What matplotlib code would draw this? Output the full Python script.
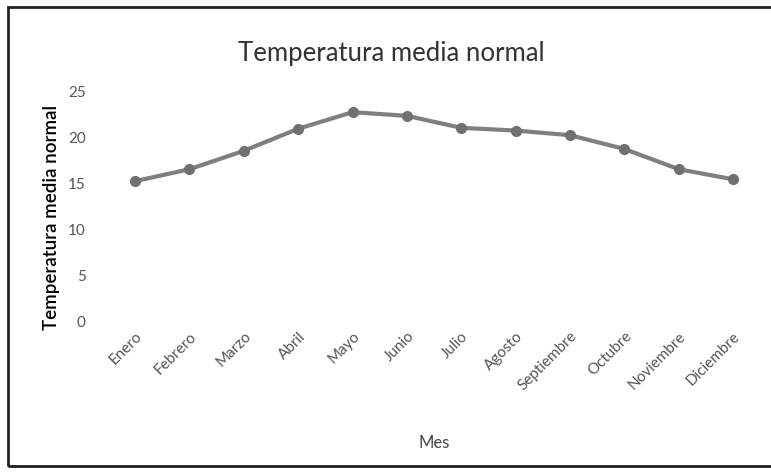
import matplotlib.pyplot as plt
from matplotlib.patches import Rectangle

meses = ['Enero', 'Febrero', 'Marzo', 'Abril', 'Mayo', 'Junio', 'Julio',
         'Agosto', 'Septiembre', 'Octubre', 'Noviembre', 'Diciembre']
temperatura = [15.1, 16.4, 18.4, 20.8, 22.6, 22.2, 20.9, 20.6, 20.1, 18.6, 16.4, 15.3]
yticks = [0, 5, 10, 15, 20, 25]

plt.rcParams['font.family'] = ['Lato', 'DejaVu Sans']

fig = plt.figure(figsize=(7.71, 4.77), dpi=100)
ax = fig.add_axes([0.140, 0.327, 0.846, 0.482])

ax.plot(range(len(meses)), temperatura, color='#7f7f7f', linewidth=3,
        marker='o', markersize=7, markerfacecolor='#707070', markeredgecolor='#707070')

ax.set_xlim(-0.5, len(meses) - 0.5)
ax.set_ylim(0, 25)
ax.set_yticks(yticks)
ax.set_xticks(range(len(meses)))
ax.set_xticklabels(meses, rotation=45, ha='right', rotation_mode='anchor')
ax.tick_params(axis='both', length=0, labelsize=11, labelcolor='#555555')
ax.tick_params(axis='y', pad=16)
ax.tick_params(axis='x', pad=6)
for s in ax.spines.values():
    s.set_visible(False)

ax.set_ylabel('Temperatura media normal', fontsize=13.5, fontweight='semibold', labelpad=9)
ax.yaxis.set_label_coords(-0.073, 0.45)
ax.set_xlabel('Mes', fontsize=12, color='#444444', labelpad=30)
fig.suptitle('Temperatura media normal', fontsize=18.5, color='#333333', x=0.507, y=0.915)

# marco exterior del grafico
fig.patches.append(Rectangle((0.011, 0.02), 1.2, 0.963, transform=fig.transFigure,
                             fill=False, edgecolor='#222222', linewidth=2))

fig.savefig('out.png', dpi=100)
